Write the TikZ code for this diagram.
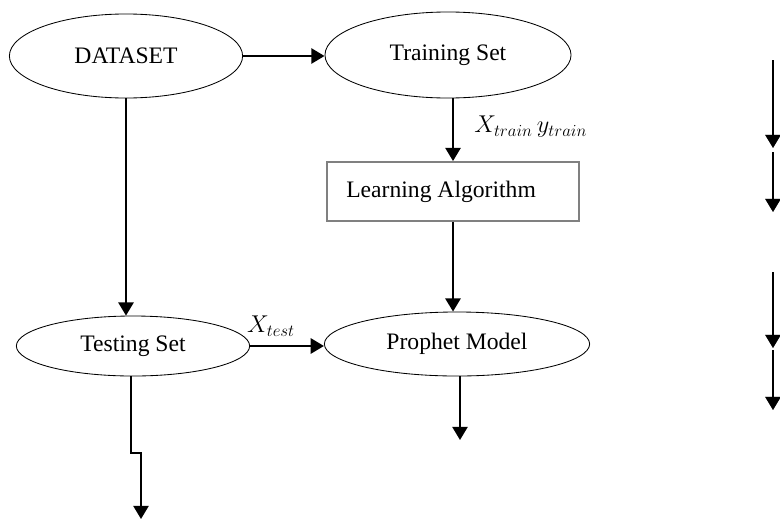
\documentclass[tikz,border=0pt]{standalone}
\usepackage{fontspec}
\setmainfont{Liberation Serif}
\usetikzlibrary{arrows.meta,shapes.geometric}
\tikzset{
  setnode/.style={draw, ellipse, line width=0.6pt, inner sep=0pt, font=\fontsize{16.8}{20}\selectfont},
  algobox/.style={draw=black!50, line width=1.2pt, rectangle, inner sep=0pt, font=\fontsize{16.8}{20}\selectfont},
  flow/.style={line width=1.5pt, -{Triangle[length=3.3mm, width=3.8mm]}},
  lbl/.style={inner sep=0pt, font=\fontsize{16.8}{20}\selectfont}
}

\begin{document}
\begin{tikzpicture}[x=0.025cm, y=-0.025cm]
		%%%%% START %%%%%
		\useasboundingbox (0,0) rectangle (780,520);
		
		\node[setnode, minimum width=5.83cm, minimum height=2.1cm] (dataset) at (126,56) {DATASET};
		\node[setnode, minimum width=6.15cm, minimum height=2.15cm] (train) at (448,55) {Training Set};
		\node[algobox, minimum width=6.3cm, minimum height=1.48cm] (algo) at (453,191.5) {};
		\node[lbl, anchor=west] (algotext) at (346,191.5) {Learning Algorithm};
		\node[setnode, minimum width=5.83cm, minimum height=1.5cm] (test) at (133,346) {Testing Set};
		\node[setnode, minimum width=6.63cm, minimum height=1.6cm] (prophet) at (457,344) {Prophet Model};
		
		\node[lbl, anchor=west] (xytrain) at (474,127) {$X_{train}\,y_{train}$};
		\node[lbl] (xtest) at (271,326) {$X_{test}$};
		
		\draw[flow] (dataset.east) -- (dataset.east -| train.west);
		\draw[flow] (dataset.south) -- (dataset.south |- test.north);
		\draw[flow] (algo.north |- train.south) -- (algo.north);
		\draw[flow] (algo.south) -- (algo.south |- prophet.north);
		\draw[flow] (test.east) -- (test.east -| prophet.west);
		
		\coordinate (pend) at (460,440);
		\draw[flow] (prophet.south -| pend) -- (pend);
		
		\coordinate (tbend) at (131,453);
		\coordinate (tend) at (141,519);
		\draw[flow] (test.south -| tbend) -- (tbend) -- (tbend -| tend) -- (tend);
		
		% arrows on the right edge
		\foreach \ya/\yb [count=\i] in {60/148,152/212,272/348,350/410}{
			\coordinate (r\i a) at (773,\ya);
			\coordinate (r\i b) at (773,\yb);
			\draw[flow, black!45, shift={(-1.5,1.5)}] (r\i a) -- (r\i b);
			\draw[flow] (r\i a) -- (r\i b);
		}
		
		%%%%% END %%%%%
\end{tikzpicture}
\end{document}
